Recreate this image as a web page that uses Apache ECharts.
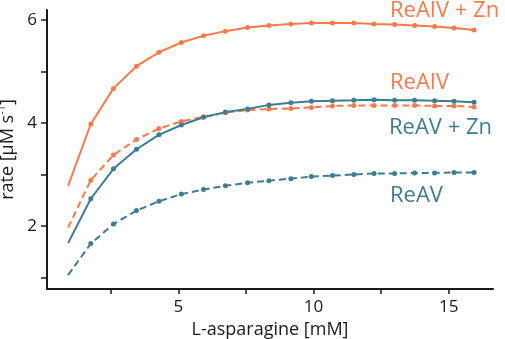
<!DOCTYPE html>
<html>
<head>
<meta charset="utf-8">
<script src="https://cdn.jsdelivr.net/npm/echarts@6/dist/echarts.min.js"></script>
<style>
  html, body { margin: 0; padding: 0; background: #fff; }
  #chart { width: 505px; height: 339px; }
</style>
</head>
<body>
<div id="chart"></div>
<script>
// substrate concentration (mM)
const asn = [0.92, 1.76, 2.60, 3.45, 4.28, 5.11, 5.93, 6.74, 7.56, 8.35,
             9.16, 9.92, 10.70, 11.49, 12.24, 13.00, 13.74, 14.48, 15.20, 15.94];
// rates (uM/s)
const reaivZn = [2.78, 3.98, 4.67, 5.10, 5.37, 5.56, 5.69, 5.78, 5.85, 5.89,
                 5.92, 5.94, 5.94, 5.94, 5.92, 5.91, 5.89, 5.87, 5.84, 5.80];
const reaiv = [1.97, 2.89, 3.38, 3.68, 3.89, 4.03, 4.12, 4.20, 4.25, 4.27,
               4.28, 4.30, 4.33, 4.34, 4.34, 4.34, 4.34, 4.33, 4.33, 4.31];
const reavZn = [1.67, 2.53, 3.11, 3.49, 3.77, 3.96, 4.11, 4.21, 4.27, 4.35,
                4.39, 4.42, 4.43, 4.44, 4.45, 4.44, 4.44, 4.43, 4.42, 4.40];
const reav = [1.05, 1.66, 2.04, 2.30, 2.48, 2.62, 2.71, 2.78, 2.84, 2.88,
              2.92, 2.96, 2.98, 3.00, 3.02, 3.02, 3.03, 3.03, 3.04, 3.04];

const xTicks = [2.5, 5, 7.5, 10, 12.5, 15];
const xLabels = [5, 10, 15];
const yTicks = [1, 2, 3, 4, 5, 6];
const yLabels = [2, 4, 6];
const names = ['ReAIV + Zn', 'ReAIV', 'ReAV + Zn', 'ReAV'];

const ORANGE = '#f77b4a';
const TEAL = '#3b7d92';
const FONT = 'Open Sans';

function pts(ys) {
  // first point is drawn without a dot in the original
  return ys.map((y, i) => i === 0 ? { value: [asn[i], y], symbol: 'none' } : [asn[i], y]);
}

function line(name, ys, color, dashed) {
  return {
    name: name,
    type: 'line',
    data: pts(ys),
    symbol: 'circle',
    symbolSize: 5,
    itemStyle: { color: color },
    lineStyle: { color: color, width: 2, type: dashed ? [7, 4] : 'solid' },
    animation: false
  };
}

const axisCommon = {
  axisLine: { lineStyle: { color: '#1a1a1a', width: 2 } },
  splitLine: { show: false },
  axisLabel: { color: '#1a1a1a', fontSize: 17, fontFamily: FONT }
};

const chart = echarts.init(document.getElementById('chart'));
chart.setOption({
  animation: false,
  grid: { left: 47, right: 12, top: 10, bottom: 50, containLabel: false, outerBoundsMode: 'none' },
  xAxis: {
    type: 'value',
    min: 0.14, max: 16.64,
    name: 'L-asparagine [mM]',
    nameLocation: 'middle',
    nameGap: 28,
    nameTextStyle: { color: '#1a1a1a', fontSize: 18, fontFamily: FONT },
    axisLine: axisCommon.axisLine,
    splitLine: axisCommon.splitLine,
    axisTick: { length: 5, customValues: xTicks, lineStyle: { color: '#1a1a1a', width: 1.5 } },
    axisLabel: Object.assign({}, axisCommon.axisLabel, { margin: 10, customValues: xLabels })
  },
  yAxis: {
    type: 'value',
    min: 0.78, max: 6.19,
    name: '{a|rate [µM s}{s|-1}{a|]}',
    nameLocation: 'middle',
    nameGap: 22,
    nameTextStyle: {
      rich: {
        a: { color: '#1a1a1a', fontSize: 18, fontFamily: FONT, lineHeight: 22 },
        s: { color: '#1a1a1a', fontSize: 11, fontFamily: FONT, lineHeight: 12, verticalAlign: 'top' }
      }
    },
    axisLine: axisCommon.axisLine,
    splitLine: axisCommon.splitLine,
    axisTick: { length: 6, customValues: yTicks, lineStyle: { color: '#1a1a1a', width: 1.5 } },
    axisLabel: Object.assign({}, axisCommon.axisLabel, { margin: 10, customValues: yLabels })
  },
  series: [
    line(names[0], reaivZn, ORANGE, false),
    line(names[1], reaiv, ORANGE, true),
    line(names[2], reavZn, TEAL, false),
    line(names[3], reav, TEAL, true)
  ],
  graphic: [
    { type: 'text', x: 390, y: 11, style: { text: names[0], fill: ORANGE, font: '22px "Open Sans"', verticalAlign: 'middle' } },
    { type: 'text', x: 390, y: 83, style: { text: names[1], fill: ORANGE, font: '22px "Open Sans"', verticalAlign: 'middle' } },
    { type: 'text', x: 389, y: 127.5, style: { text: names[2], fill: TEAL, font: '22px "Open Sans"', verticalAlign: 'middle' } },
    { type: 'text', x: 390, y: 196, style: { text: names[3], fill: TEAL, font: '22px "Open Sans"', verticalAlign: 'middle' } }
  ]
});
</script>
</body>
</html>
